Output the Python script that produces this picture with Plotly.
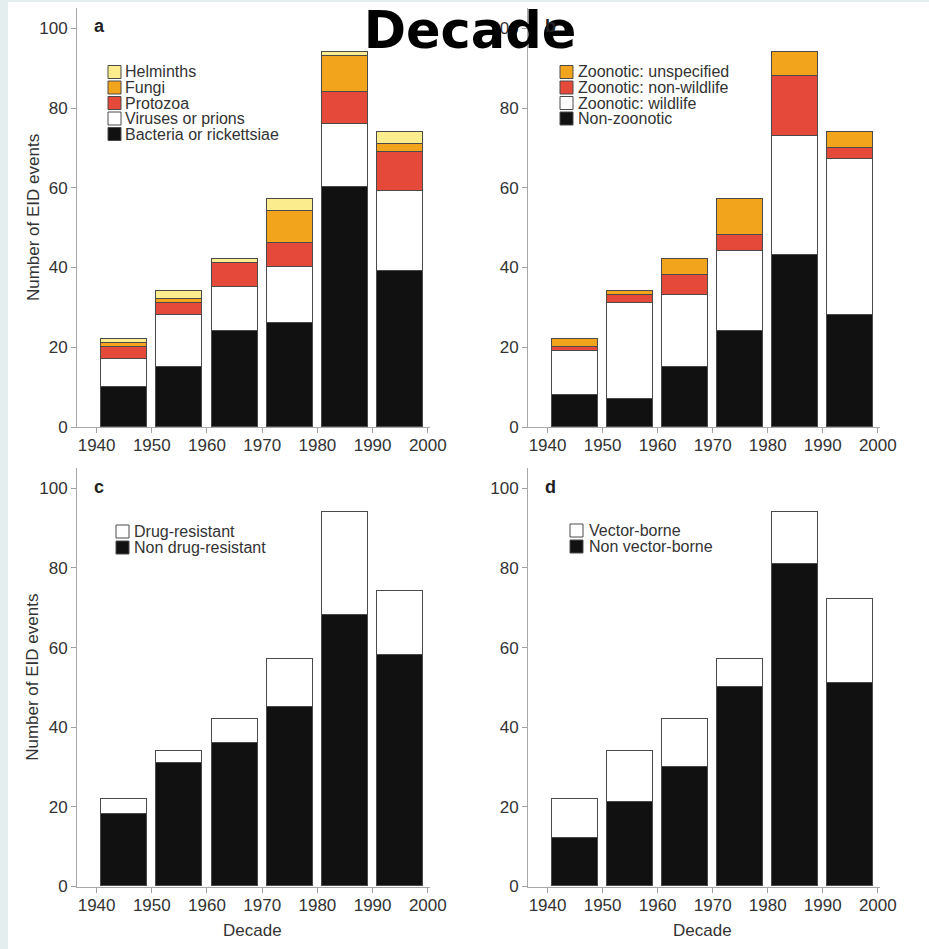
import plotly.graph_objects as go

W, H = 929, 949

# ---------------- data ----------------
decades = [1940, 1950, 1960, 1970, 1980, 1990]
x_ticks = [1940, 1950, 1960, 1970, 1980, 1990, 2000]
y_ticks = [0, 20, 40, 60, 80, 100]

# panel a: pathogen type
bacteria = [10, 15, 24, 26, 60, 39]
viruses = [7, 13, 11, 14, 16, 20]
protozoa = [3, 3, 6, 6, 8, 10]
fungi = [1, 1, 0, 8, 9, 2]
helminths = [1, 2, 1, 3, 1, 3]

# panel b: transmission type
non_zoonotic = [8, 7, 15, 24, 43, 28]
zoo_wildlife = [11, 24, 18, 20, 30, 39]
zoo_nonwildlife = [1, 2, 5, 4, 15, 3]
zoo_unspecified = [2, 1, 4, 9, 6, 4]

# panel c: drug resistance
non_drug_resistant = [18, 31, 36, 45, 68, 58]
drug_resistant = [4, 3, 6, 12, 26, 16]

# panel d: vector-borne
non_vector_borne = [12, 21, 30, 50, 81, 51]
vector_borne = [10, 13, 12, 7, 13, 21]

# ---------------- styling ----------------
BLACK = "#111111"
WHITE = "#ffffff"
RED = "#e5493a"
ORANGE = "#f3a41d"
YELLOW = "#fbec8e"
OUTLINE = "#4a4a4a"
FONT = "Liberation Sans, Arial, sans-serif"
TXT = "#333333"

xc = [d + 5 for d in decades]
BAR_W = 8.3

fig = go.Figure()

# (xaxis, yaxis, series bottom->top, legend: swatch-left px, text-left px, first-row px, row step px)
panels = [
    ("x", "y", [
        ("Bacteria or rickettsiae", bacteria, BLACK),
        ("Viruses or prions", viruses, WHITE),
        ("Protozoa", protozoa, RED),
        ("Fungi", fungi, ORANGE),
        ("Helminths", helminths, YELLOW),
    ], (108, 124, 72, 15.5)),
    ("x2", "y2", [
        ("Non-zoonotic", non_zoonotic, BLACK),
        ("Zoonotic: wildlife", zoo_wildlife, WHITE),
        ("Zoonotic: non-wildlife", zoo_nonwildlife, RED),
        ("Zoonotic: unspecified", zoo_unspecified, ORANGE),
    ], (560, 577, 72, 15.5)),
    ("x3", "y3", [
        ("Non drug-resistant", non_drug_resistant, BLACK),
        ("Drug-resistant", drug_resistant, WHITE),
    ], (116, 133, 531.5, 16)),
    ("x4", "y4", [
        ("Non vector-borne", non_vector_borne, BLACK),
        ("Vector-borne", vector_borne, WHITE),
    ], (570, 588, 530.5, 16)),
]

for xa, ya, series, _ in panels:
    for name, vals, col in series:
        fig.add_trace(go.Bar(
            x=xc, y=vals, width=BAR_W, name=name,
            marker=dict(color=col, line=dict(color=OUTLINE, width=1)),
            xaxis=xa, yaxis=ya,
        ))

def px_x(p):
    return p / W

def px_y(p):
    return 1 - p / H

x_range = [1936.45, 2000.4]
y_range = [0, 105]

xdoms = {"left": [px_x(77), px_x(430)], "right": [px_x(528), px_x(880)]}
ydoms = {"top": [px_y(427), px_y(8.4)], "bottom": [px_y(886.5), px_y(468.4)]}

axis_common = dict(
    showline=True, linecolor="#a8a8a8", linewidth=1,
    ticks="outside", ticklen=5, tickcolor="#a0a0a0", tickwidth=1,
    showgrid=False, zeroline=False, automargin=False,
    tickfont=dict(family=FONT, size=17, color=TXT),
    fixedrange=True,
)

layout_axes = {}
spec = [
    ("xaxis", "yaxis", "y", "x", "left", "top"),
    ("xaxis2", "yaxis2", "y2", "x2", "right", "top"),
    ("xaxis3", "yaxis3", "y3", "x3", "left", "bottom"),
    ("xaxis4", "yaxis4", "y4", "x4", "right", "bottom"),
]
for xk, yk, yref, xref, hd, vd in spec:
    layout_axes[xk] = dict(axis_common, domain=xdoms[hd], range=x_range,
                           tickvals=x_ticks, anchor=yref, ticklabelstandoff=-2)
    layout_axes[yk] = dict(axis_common, domain=ydoms[vd], range=y_range,
                           tickvals=y_ticks, anchor=xref)

fig.update_layout(
    width=W, height=H, autosize=False,
    margin=dict(l=0, r=0, t=0, b=0, pad=0, autoexpand=False),
    paper_bgcolor="#e4eeee", plot_bgcolor=WHITE,
    barmode="stack", bargap=0,
    showlegend=False,
    title=dict(text="Decade", x=470 / W, y=1 - 30 / H, xref="paper", yref="container",
               xanchor="center", yanchor="middle", automargin=False,
               font=dict(family="DejaVu Sans, sans-serif", size=51, color="#000000", weight="bold")),
    **layout_axes,
)

# white page area
fig.add_shape(type="rect", xref="paper", yref="paper",
              x0=px_x(8), x1=1.02, y0=-0.02, y1=px_y(2),
              fillcolor=WHITE, line=dict(width=0), layer="below")

# legends (swatch + label per series, top entry = top of the stack)
SW = 13
for xa, ya, series, (sx, tx, y0, step) in panels:
    for i, (name, vals, col) in enumerate(reversed(series)):
        cy = y0 + i * step
        fig.add_shape(type="rect", xref="paper", yref="paper",
                      x0=px_x(sx), x1=px_x(sx + SW),
                      y0=px_y(cy + SW / 2), y1=px_y(cy - SW / 2),
                      fillcolor=col, line=dict(color=OUTLINE, width=1))
        fig.add_annotation(text=name, xref="paper", yref="paper",
                           x=px_x(tx), y=px_y(cy), xanchor="left", yanchor="middle",
                           showarrow=False, borderpad=0,
                           font=dict(family=FONT, size=16, color=TXT))

# panel letters
for letter, xp, yp in [("a", 92, 26), ("b", 543, 26), ("c", 92, 487), ("d", 543, 487)]:
    fig.add_annotation(text=letter, xref="paper", yref="paper", x=px_x(xp), y=px_y(yp),
                       xanchor="left", yanchor="middle", showarrow=False,
                       font=dict(family=FONT, size=18, color="#222222", weight="bold"))

# y-axis titles
for yref in ["y", "y3"]:
    fig.add_annotation(text="Number of EID events", xref="paper", yref=yref,
                       x=px_x(33), y=52.4, textangle=-90,
                       xanchor="center", yanchor="middle", showarrow=False,
                       font=dict(family=FONT, size=17, color=TXT))

# x-axis titles
for xref in ["x3", "x4"]:
    fig.add_annotation(text="Decade", xref=xref, yref="paper",
                       x=1968.2, y=px_y(930.5),
                       xanchor="center", yanchor="middle", showarrow=False,
                       font=dict(family=FONT, size=17, color=TXT))

fig.write_html(
    "out.html",
    config={"displayModeBar": False, "responsive": False},
    post_script="document.body.style.margin='0';document.body.style.overflow='hidden';",
)
